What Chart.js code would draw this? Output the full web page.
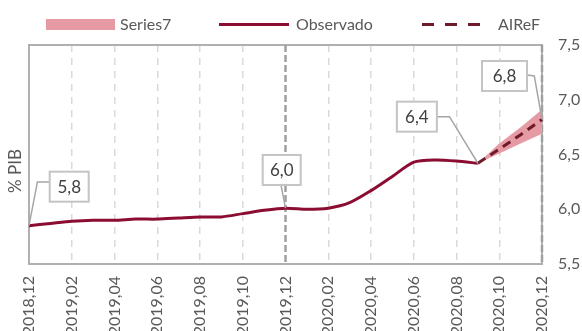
<!DOCTYPE html>
<html>
<head>
<meta charset="utf-8">
<script src="https://cdn.jsdelivr.net/npm/chart.js@4.4.0/dist/chart.umd.min.js"></script>
<style>
  html, body { margin: 0; padding: 0; background: #fff; }
  #wrap { width: 582px; height: 331px; }
</style>
</head>
<body>
<div id="wrap"><canvas id="deuda" width="582" height="331"></canvas></div>
<script>
var meses = ["2018,12", "2019,01", "2019,02", "2019,03", "2019,04", "2019,05", "2019,06",
             "2019,07", "2019,08", "2019,09", "2019,10", "2019,11", "2019,12",
             "2020,01", "2020,02", "2020,03", "2020,04", "2020,05", "2020,06",
             "2020,07", "2020,08", "2020,09", "2020,10", "2020,11", "2020,12"];

var observado = [5.85, 5.87, 5.89, 5.90, 5.90, 5.91, 5.91, 5.92, 5.93, 5.93, 5.96, 5.99, 6.01,
                 6.00, 6.01, 6.06, 6.17, 6.30, 6.43, 6.45, 6.44, 6.42, null, null, null];
var airef = [null, null, null, null, null, null, null, null, null, null, null, null, null,
             null, null, null, null, null, null, null, null, 6.42, 6.55, 6.68, 6.82];
var bandaSup = [null, null, null, null, null, null, null, null, null, null, null, null, null,
                null, null, null, null, null, null, null, null, 6.42, 6.60, 6.75, 6.91];
var bandaInf = [null, null, null, null, null, null, null, null, null, null, null, null, null,
                null, null, null, null, null, null, null, null, 6.42, 6.51, 6.60, 6.69];

var cortes = ["2019,12", "2020,12"];

var colObs = "#8b0d32";
var colAiref = "#6d1a2b";
var colBanda = "#e69aa3";
var colTexto = "#595959";
var FUENTE = "Lato, 'Open Sans', sans-serif";

// recuadros con valor: caja [dx, dy, ancho, alto] y guia relativas al punto
var etiquetas = [
  { serie: observado, idx: 0,  caja: [20.7, -54, 39, 30],   guia: [[8.4, -43.7], [20.7, -43.7]] },
  { serie: observado, idx: 12, caja: [-22.8, -53.2, 38, 30], guia: [[-4.5, -23.2]] },
  { serie: observado, idx: 21, caja: [-81, -61.6, 40, 30],  guia: [[-28.4, -46.6], [-41, -46.6]] },
  { serie: airef,     idx: 24, caja: [-60, -58.5, 45, 30],  guia: [[-7.7, -43.5], [-15, -44.5]] }
];

function coma(v) {
  return v.toFixed(1).replace(".", ",");
}

var extras = {
  id: "extras",
  beforeDatasetsDraw: function (chart) {
    var ctx = chart.ctx, a = chart.chartArea, x = chart.scales.x;
    ctx.save();
    ctx.strokeStyle = "#b0b0b0";
    ctx.lineWidth = 2;
    ctx.strokeRect(a.left, a.top, a.right - a.left, a.bottom - a.top);
    ctx.strokeStyle = "#a0a0a0";
    ctx.lineWidth = 2.5;
    ctx.setLineDash([7, 3]);
    cortes.forEach(function (lab) {
      var px = x.getPixelForValue(meses.indexOf(lab));
      ctx.beginPath();
      ctx.moveTo(px, a.top);
      ctx.lineTo(px, a.bottom);
      ctx.stroke();
    });
    ctx.restore();
  },
  afterDatasetsDraw: function (chart) {
    var ctx = chart.ctx, x = chart.scales.x, y = chart.scales.y;
    ctx.save();
    etiquetas.forEach(function (e) {
      var v = e.serie[e.idx];
      var px = x.getPixelForValue(e.idx), py = y.getPixelForValue(v);
      ctx.beginPath();
      ctx.moveTo(px, py);
      e.guia.forEach(function (p) { ctx.lineTo(px + p[0], py + p[1]); });
      ctx.strokeStyle = "#a6a6a6";
      ctx.lineWidth = 1.5;
      ctx.stroke();
      var bx = px + e.caja[0], by = py + e.caja[1], bw = e.caja[2], bh = e.caja[3];
      ctx.fillStyle = "#fff";
      ctx.fillRect(bx, by, bw, bh);
      ctx.strokeStyle = "#c4c4c4";
      ctx.lineWidth = 2;
      ctx.strokeRect(bx, by, bw, bh);
      ctx.fillStyle = "#404040";
      ctx.font = "17px " + FUENTE;
      ctx.textAlign = "center";
      ctx.textBaseline = "middle";
      ctx.fillText(coma(v), bx + bw / 2, by + bh / 2 + 1);
    });
    ctx.restore();
  },
  afterDraw: function (chart) {
    var ctx = chart.ctx;
    ctx.save();
    // leyenda
    ctx.font = "16px " + FUENTE;
    ctx.fillStyle = colTexto;
    ctx.textBaseline = "middle";
    ctx.textAlign = "left";
    var ly = 24.5;
    ctx.fillStyle = colBanda;
    ctx.fillRect(46, 19, 69, 11);
    ctx.fillStyle = colTexto;
    ctx.fillText("Series7", 120, ly);

    ctx.strokeStyle = colObs;
    ctx.lineWidth = 3;
    ctx.beginPath(); ctx.moveTo(219, ly); ctx.lineTo(289, ly); ctx.stroke();
    ctx.fillText("Observado", 296, ly);

    ctx.strokeStyle = colAiref;
    ctx.setLineDash([12, 11]);
    ctx.beginPath(); ctx.moveTo(422, ly); ctx.lineTo(481, ly); ctx.stroke();
    ctx.setLineDash([]);
    ctx.fillText("AIReF", 498, ly);

    // titulo del eje
    ctx.translate(16, 171);
    ctx.rotate(-Math.PI / 2);
    ctx.textAlign = "center";
    ctx.font = "17px " + FUENTE;
    ctx.fillText("% PIB", 0, 0);
    ctx.restore();
  }
};

new Chart(document.getElementById("deuda"), {
  type: "line",
  data: {
    labels: meses,
    datasets: [
      {
        label: "Observado",
        data: observado,
        borderColor: colObs,
        borderWidth: 3,
        pointRadius: 0,
        tension: 0.25,
        fill: false,
        order: 1
      },
      {
        label: "AIReF",
        data: airef,
        borderColor: colAiref,
        borderWidth: 3,
        borderDash: [9, 6],
        pointRadius: 0,
        fill: false,
        order: 0
      },
      {
        label: "inf",
        data: bandaInf,
        borderWidth: 0,
        borderColor: "rgba(0,0,0,0)",
        pointRadius: 0,
        fill: false,
        order: 3
      },
      {
        label: "Series7",
        data: bandaSup,
        borderWidth: 0,
        borderColor: "rgba(0,0,0,0)",
        backgroundColor: colBanda,
        pointRadius: 0,
        fill: "-1",
        order: 2
      }
    ]
  },
  options: {
    responsive: false,
    animation: false,
    layout: { padding: { top: 45, left: 29, right: 0, bottom: 0 } },
    plugins: {
      legend: { display: false },
      tooltip: { enabled: false }
    },
    scales: {
      x: {
        grid: {
          drawTicks: false,
          lineWidth: 1.5,
          color: function (c) {
            var i = c.tick ? c.tick.value : c.index;
            if (i % 2 !== 0 || i === 0 || i === 12 || i === 24) return "rgba(0,0,0,0)";
            return "#d9d9d9";
          }
        },
        border: { display: false, dash: [7, 6] },
        ticks: {
          autoSkip: false,
          maxRotation: 90,
          minRotation: 90,
          padding: 12,
          color: colTexto,
          font: { family: FUENTE, size: 16 },
          callback: function (v, i) { return i % 2 === 0 ? meses[i] : null; }
        },
        afterFit: function (s) { s.height = 67; }
      },
      y: {
        position: "right",
        min: 5.5,
        max: 7.5,
        grid: { display: false, drawTicks: false },
        border: { display: false },
        ticks: {
          stepSize: 0.5,
          padding: 16,
          color: colTexto,
          font: { family: FUENTE, size: 16 },
          callback: function (v) { return coma(v); }
        },
        afterFit: function (s) { s.width = 40; }
      }
    }
  },
  plugins: [extras]
});
</script>
</body>
</html>
